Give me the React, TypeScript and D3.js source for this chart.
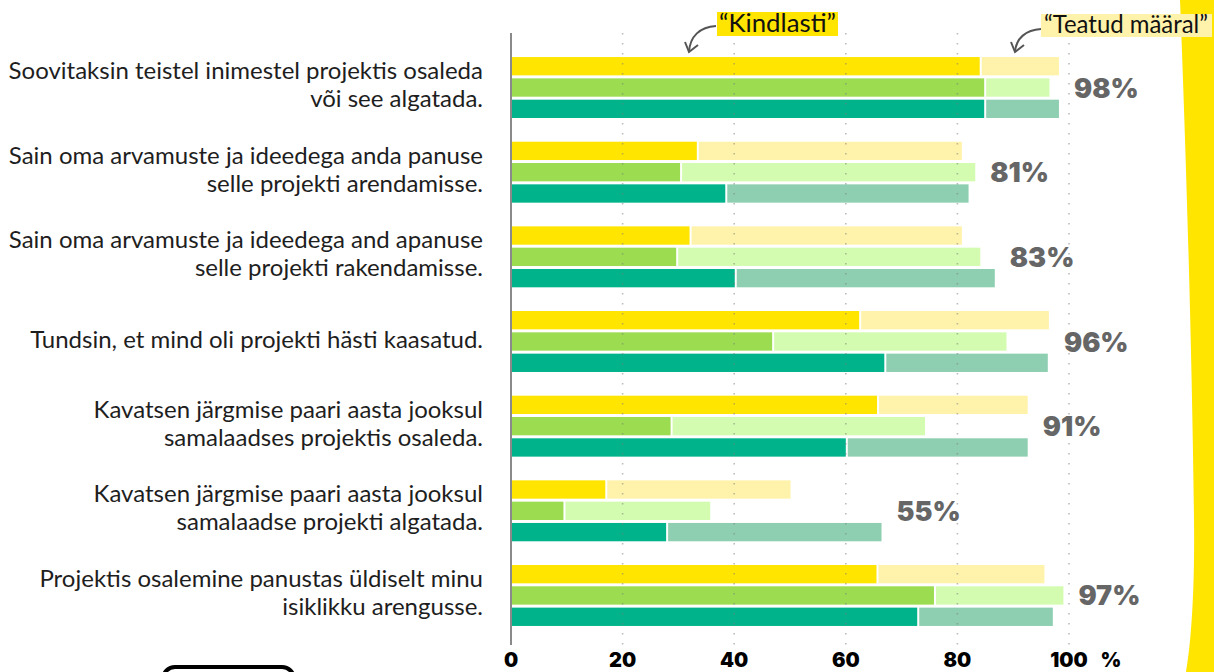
import React from 'react';
import * as d3 from 'd3';

// statements (two lines each)
const statements = [
  ['Soovitaksin teistel inimestel projektis osaleda', 'või see algatada.'],
  ['Sain oma arvamuste ja ideedega anda panuse', 'selle projekti arendamisse.'],
  ['Sain oma arvamuste ja ideedega and apanuse', 'selle projekti rakendamisse.'],
  ['Tundsin, et mind oli projekti hästi kaasatud.'],
  ['Kavatsen järgmise paari aasta jooksul', 'samalaadses projektis osaleda.'],
  ['Kavatsen järgmise paari aasta jooksul', 'samalaadse projekti algatada.'],
  ['Projektis osalemine panustas üldiselt minu', 'isiklikku arengusse.'],
];

const series = ['yellow', 'green', 'teal'];

// "Kindlasti" share per series
const yellowKindlasti = [84.0, 33.3, 32.0, 62.4, 65.6, 16.9, 65.5];
const greenKindlasti = [84.8, 30.3, 29.6, 46.8, 28.6, 9.4, 75.8];
const tealKindlasti = [84.8, 38.4, 40.1, 66.9, 60.0, 27.8, 72.8];

// "Teatud määral" share per series
const yellowTeatud = [14.2, 47.5, 48.8, 34.0, 27.0, 33.2, 30.1];
const greenTeatud = [11.7, 52.9, 54.5, 42.0, 45.6, 26.3, 23.2];
const tealTeatud = [13.4, 43.6, 46.6, 29.3, 32.6, 38.6, 24.3];

const totalLabels = ['98%', '81%', '83%', '96%', '91%', '55%', '97%'];
const xTicks = [0, 20, 40, 60, 80, 100];

const kindlasti: Record<string, number[]> = {
  yellow: yellowKindlasti,
  green: greenKindlasti,
  teal: tealKindlasti,
};
const teatud: Record<string, number[]> = {
  yellow: yellowTeatud,
  green: greenTeatud,
  teal: tealTeatud,
};

const darkColor: Record<string, string> = {
  yellow: '#ffe500',
  green: '#9bdc50',
  teal: '#00b38a',
};
const lightColor: Record<string, string> = {
  yellow: '#fff3ab',
  green: '#d3fcb0',
  teal: '#8fcfb1',
};

const width = 1214;
const height = 672;

export default function App() {
  const x = d3.scaleLinear().domain([0, 100]).range([511, 1069]);

  const y = d3
    .scaleBand<number>()
    .domain(d3.range(statements.length))
    .range([45.2, 637.8])
    .paddingInner(0.28)
    .paddingOuter(0.14);

  const inner = d3
    .scaleBand<string>()
    .domain(series)
    .range([0, y.bandwidth()])
    .paddingInner(0.14);

  const gridTop = 33;
  const gridBottom = 645;

  return (
    <svg
      width={width}
      height={height}
      style={{ position: 'absolute', left: 0, top: 0, background: '#fff' }}
    >
      {/* yellow stripe on the right */}
      <path
        d="M1180,0 C1186,150 1192,350 1194,520 C1195,600 1190,650 1186,672 L1214,672 L1214,0 Z"
        fill="#ffe500"
      />

      {/* bars */}
      {statements.map((_, i) => (
        <g key={i} transform={`translate(0,${y(i)})`}>
          {series.map((s) => {
            const k = kindlasti[s][i];
            const t = teatud[s][i];
            return (
              <g key={s} transform={`translate(0,${inner(s)})`}>
                <rect
                  x={x(0)}
                  y={0}
                  width={x(k) - x(0)}
                  height={inner.bandwidth()}
                  fill={darkColor[s]}
                />
                <rect
                  x={x(k) + 2}
                  y={0}
                  width={Math.max(0, x(k + t) - x(k) - 2)}
                  height={inner.bandwidth()}
                  fill={lightColor[s]}
                />
              </g>
            );
          })}
        </g>
      ))}

      {/* dotted grid over the bars */}
      {xTicks.slice(1).map((d) => (
        <line
          key={d}
          x1={x(d)}
          x2={x(d)}
          y1={gridTop}
          y2={gridBottom}
          stroke="#7a7a7a"
          strokeOpacity={0.5}
          strokeWidth={1.6}
          strokeDasharray="1.6 8.4"
        />
      ))}

      {/* axis line */}
      <line x1={x(0)} x2={x(0)} y1={gridTop} y2={gridBottom} stroke="#8a8a8a" strokeWidth={2} />

      {/* statement labels */}
      {statements.map((lines, i) => {
        const c = (y(i) as number) + y.bandwidth() / 2;
        const first = lines.length === 2 ? c - 8.5 : c + 6;
        return (
          <text
            key={i}
            textAnchor="end"
            fontFamily="Lato, sans-serif"
            fontSize={24}
            fill="#1e1e1e"
          >
            {lines.map((l, j) => (
              <tspan key={j} x={483} y={first + j * 28}>
                {l}
              </tspan>
            ))}
          </text>
        );
      })}

      {/* total labels */}
      {statements.map((_, i) => {
        const maxTotal = d3.max(series, (s) => kindlasti[s][i] + teatud[s][i]) as number;
        const c = (y(i) as number) + (inner('green') as number) + inner.bandwidth() / 2;
        return (
          <text
            key={i}
            x={x(maxTotal) + 15}
            y={c + 10}
            fontFamily="Inter, sans-serif"
            fontWeight={900}
            fontSize={27}
            fill="#666666"
          >
            {totalLabels[i]}
          </text>
        );
      })}

      {/* x ticks */}
      {xTicks.map((d) => (
        <text
          key={d}
          x={x(d)}
          y={667}
          textAnchor="middle"
          fontFamily="Inter, sans-serif"
          fontWeight={900}
          fontSize={20}
          fill="#000"
        >
          {d}
        </text>
      ))}
      <text x={x(100) + 42} y={667} textAnchor="middle" fontFamily="Inter, sans-serif" fontWeight={900} fontSize={20} fill="#000">
        %
      </text>

      {/* annotations */}
      <rect x={717} y={12} width={121} height={24} fill="#ffe500" />
      <text x={719} y={32} fontFamily="Lato, sans-serif" fontSize={25} fill="#111" textLength={117} lengthAdjust="spacingAndGlyphs">
        “Kindlasti”
      </text>
      <path d="M716,26 C700,27 690,36 689,52" fill="none" stroke="#555" strokeWidth={2} />
      <path d="M685,42 L689,52 L698,45" fill="none" stroke="#555" strokeWidth={2} />

      <rect x={1041} y={14} width={171} height={23} fill="#fff3ab" />
      <text x={1044} y={33} fontFamily="Lato, sans-serif" fontSize={25} fill="#111" textLength={164} lengthAdjust="spacingAndGlyphs">
        “Teatud määral”
      </text>
      <path d="M1041,29 C1026,30 1016,38 1015,52" fill="none" stroke="#555" strokeWidth={2} />
      <path d="M1011,42 L1015,52 L1024,45" fill="none" stroke="#555" strokeWidth={2} />

      {/* button cut off at the bottom */}
      <rect x={163} y={667} width={131} height={30} rx={12} fill="#fff" stroke="#000" strokeWidth={4} />
    </svg>
  );
}
